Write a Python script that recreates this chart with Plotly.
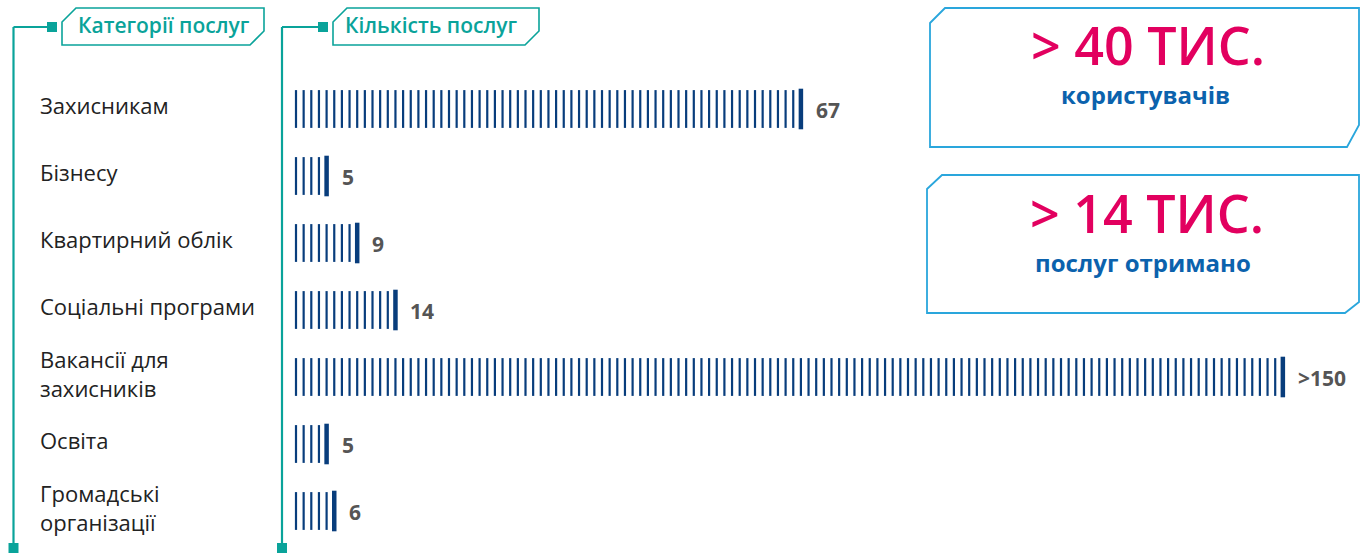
import plotly.graph_objects as go

# data
categories = [
    "Захисникам",
    "Бізнесу",
    "Квартирний облік",
    "Соціальні програми",
    "Вакансії для<br>захисників",
    "Освіта",
    "Громадські<br>організації",
]
service_counts = [67, 5, 9, 14, 150, 5, 6]
count_labels = ["67", "5", "9", "14", ">150", "5", "6"]
bar_cap = 130  # the long bar is cut off on the chart

W, H = 1362, 553
TEAL = "#0aa39a"
BLUE_LINE = "#2aa6dc"
NAVY = "#083d7c"
MAGENTA = "#e2005f"
DEEP_BLUE = "#0b62ad"
FONT = "Open Sans"


def px(x):
    return x / W


def py(y):
    return 1 - y / H


fig = go.Figure()

thin_x, thin_y, end_x, end_y = [], [], [], []
for i, v in enumerate(service_counts):
    n = min(v, bar_cap)
    thin_x += list(range(1, n))
    thin_y += [i] * (n - 1)
    end_x.append(n)
    end_y.append(i)

fig.add_trace(go.Scatter(
    x=thin_x, y=thin_y, mode="markers",
    marker=dict(symbol="line-ns", size=27, line=dict(width=2.2, color=NAVY)),
    hoverinfo="skip", showlegend=False,
))
fig.add_trace(go.Scatter(
    x=end_x, y=end_y, mode="markers",
    marker=dict(symbol="line-ns", size=29, line=dict(width=4.5, color=NAVY)),
    hoverinfo="skip", showlegend=False,
))

# value labels next to each bar
for i, lab in enumerate(count_labels):
    fig.add_annotation(
        x=end_x[i], y=i, text=f"<b>{lab}</b>", showarrow=False,
        xanchor="left", yanchor="middle", xshift=13, yshift=-1,
        font=dict(family=FONT, size=21, color="#555555"),
    )

# category names
for i, cat in enumerate(categories):
    fig.add_annotation(
        x=px(38), xref="paper", y=i, yref="y", text=cat, showarrow=False,
        xanchor="left", yanchor="middle", yshift=4, align="left",
        font=dict(family=FONT, size=22, color="#222222"),
    )

shapes = []


def poly(points, color, width=1.8):
    path = "M " + " L ".join(f"{px(x)},{py(y)}" for x, y in points) + " Z"
    shapes.append(dict(type="path", path=path, xref="paper", yref="paper",
                       line=dict(color=color, width=width)))


def line(x0, y0, x1, y1, color, width=2):
    shapes.append(dict(type="line", xref="paper", yref="paper",
                       x0=px(x0), y0=py(y0), x1=px(x1), y1=py(y1),
                       line=dict(color=color, width=width)))


def square(cx, cy, s, color):
    shapes.append(dict(type="rect", xref="paper", yref="paper",
                       x0=px(cx - s / 2), x1=px(cx + s / 2),
                       y0=py(cy - s / 2), y1=py(cy + s / 2),
                       fillcolor=color, line=dict(width=0)))


def text(x, y, s, size, color, weight="normal"):
    fig.add_annotation(x=px(x), y=py(y), xref="paper", yref="paper",
                       text=s, showarrow=False, xanchor="center", yanchor="middle",
                       font=dict(family=FONT, size=size, color=color, weight=weight))


# teal header brackets
for lx, box_l, box_r in [(13.5, 62, 264), (282, 333, 539)]:
    line(lx, 27, lx, 553, TEAL, 2.2)
    line(lx, 27, box_l - 10, 27, TEAL, 2.2)
    square(box_l - 10, 27, 10, TEAL)
    square(lx, 548, 10, TEAL)
    poly([(box_l, 22), (box_l + 14, 8), (box_r, 8), (box_r, 31),
          (box_r - 14, 45), (box_l, 45)], TEAL, 1.6)

text(164, 25, "Категорії послуг", 21, TEAL, 600)
text(431, 25, "Кількість послуг", 21, TEAL, 600)

# highlight boxes on the right
poly([(930, 23), (945, 8), (1359, 8), (1359, 125), (1347, 147), (930, 147)], BLUE_LINE, 1.8)
poly([(927, 189), (942, 175), (1359, 175), (1359, 302), (1345, 313), (927, 313)], BLUE_LINE, 1.8)

text(1148, 45, "> 40 ТИС.", 52, MAGENTA, 600)
text(1145, 95, "користувачів", 24, DEEP_BLUE, "bold")
text(1147, 212, "> 14 ТИС.", 52, MAGENTA, 600)
text(1143, 262, "послуг отримано", 24, DEEP_BLUE, "bold")

# axis scale: one tick mark = 7.65 px, first mark at x=296, rows 67 px apart
unit = 7.65
x0 = 1 - 296 / unit
row = 67
y_top = -109 / row

fig.update_layout(
    width=W, height=H,
    margin=dict(l=0, r=0, t=0, b=0),
    paper_bgcolor="white", plot_bgcolor="white",
    xaxis=dict(range=[x0, x0 + W / unit], visible=False, fixedrange=True),
    yaxis=dict(range=[y_top + H / row, y_top], visible=False, fixedrange=True),
    shapes=shapes,
)

fig.write_html("out.html", config={"displayModeBar": False},
               post_script="document.body.style.margin='0';")
